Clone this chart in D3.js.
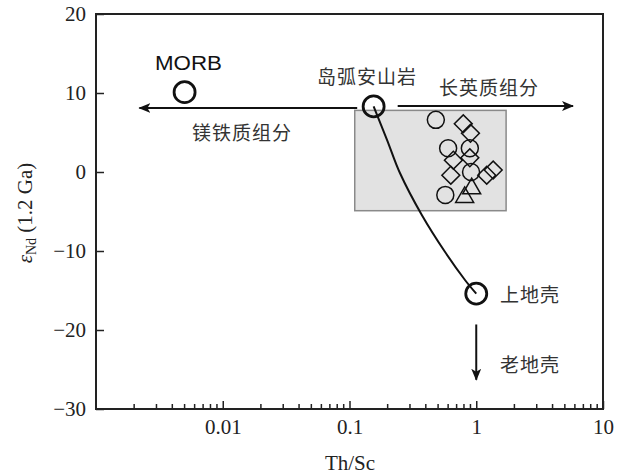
<!DOCTYPE html>
<html>
<head>
<meta charset="utf-8">
<script src="https://cdn.jsdelivr.net/npm/d3@7"></script>
<style>
  html, body { margin: 0; padding: 0; background: #fff; }
  svg { display: block; }
</style>
</head>
<body>
<svg id="chart" width="629" height="476"></svg>
<script>
// Th/Sc versus εNd(1.2 Ga) — end-members, mixing curve and sample field

// tick values
const xTickValues = [0.01, 0.1, 1, 10];
const xTickLabels = ["0.01", "0.1", "1", "10"];
const yTickValues = [-30, -20, -10, 0, 10, 20];

// end-member reservoirs [Th/Sc, εNd]
const endMemberNames = ["MORB", "岛弧安山岩", "上地壳"];
const endMemberX = [0.005, 0.155, 1.0];
const endMemberY = [10.1, 8.3, -15.4];

// mixing curve from island-arc andesite to upper crust
const mixX = [0.155, 0.198, 0.25, 0.372, 0.566, 0.815, 1.0];
const mixY = [8.3, 4.05, -0.13, -5.44, -10.1, -13.67, -15.4];

// field of the studied samples
const fieldX = [0.11, 1.72];
const fieldY = [-4.9, 7.8];

// samples, by symbol
const circleX = [0.48, 0.60, 0.89, 0.57, 0.91];
const circleY = [6.6, 3.0, 3.0, -2.9, 0.0];
const diamondX = [0.79, 0.90, 0.66, 0.63, 0.89, 1.21, 1.36];
const diamondY = [6.1, 4.9, 1.5, -0.4, 1.8, -0.4, 0.25];
const triangleX = [0.92, 0.81];
const triangleY = [-2.1, -3.2];

const svg = d3.select("#chart");
const x = d3.scaleLog().domain([0.001, 10]).range([96, 603]);
const y = d3.scaleLinear().domain([-30, 20]).range([409, 14]);

const serif = "'Liberation Serif', 'Times New Roman', serif";
const cjk = "'Noto Sans CJK SC', sans-serif";

// sample field
svg.append("rect")
  .attr("x", x(fieldX[0])).attr("y", y(fieldY[1]))
  .attr("width", x(fieldX[1]) - x(fieldX[0]))
  .attr("height", y(fieldY[0]) - y(fieldY[1]))
  .attr("fill", "#e2e2e2").attr("stroke", "#8a8a8a").attr("stroke-width", 1.5);

// arrow heads
const defs = svg.append("defs");
defs.append("marker").attr("id", "head")
  .attr("viewBox", "0 0 12 10").attr("refX", 11).attr("refY", 5)
  .attr("markerWidth", 12).attr("markerHeight", 10).attr("markerUnits", "userSpaceOnUse")
  .attr("orient", "auto")
  .append("path").attr("d", "M0,0 L12,5 L0,10 L3,5 Z").attr("fill", "#111");

// trend arrows
const arrows = [
  { x1: 0.115, y1: 8.1, x2: 0.0022, y2: 8.1 },
  { x1: 0.24, y1: 8.35, x2: 5.8, y2: 8.35 },
  { x1: 1.0, y1: -19.3, x2: 1.0, y2: -26.3 }
];
svg.selectAll("line.arrow").data(arrows).join("line")
  .attr("class", "arrow")
  .attr("x1", d => x(d.x1)).attr("y1", d => y(d.y1))
  .attr("x2", d => x(d.x2)).attr("y2", d => y(d.y2))
  .attr("stroke", "#111").attr("stroke-width", 2)
  .attr("marker-end", "url(#head)");

// mixing curve
const mixPts = mixX.map((v, i) => [x(v), y(mixY[i])]);
svg.append("path")
  .attr("d", d3.line().curve(d3.curveCatmullRom.alpha(0.5))(mixPts))
  .attr("fill", "none").attr("stroke", "#111").attr("stroke-width", 2);

// samples
const g = svg.append("g").attr("fill", "none").attr("stroke", "#111").attr("stroke-width", 1.5);
g.selectAll("circle").data(circleX).join("circle")
  .attr("cx", d => x(d)).attr("cy", (d, i) => y(circleY[i])).attr("r", 8.5);
const sq = d3.symbol().type(d3.symbolSquare).size(160);
g.selectAll("path.dia").data(diamondX).join("path")
  .attr("class", "dia")
  .attr("d", sq)
  .attr("transform", (d, i) => `translate(${x(d)},${y(diamondY[i])}) rotate(45)`);
const tri = d3.symbol().type(d3.symbolTriangle).size(140);
g.selectAll("path.tri").data(triangleX).join("path")
  .attr("class", "tri")
  .attr("d", tri)
  .attr("transform", (d, i) => `translate(${x(d)},${y(triangleY[i])})`);

// end-member circles
svg.selectAll("circle.em").data(endMemberX).join("circle")
  .attr("class", "em")
  .attr("cx", d => x(d)).attr("cy", (d, i) => y(endMemberY[i]))
  .attr("r", 10.5).attr("fill", "none").attr("stroke", "#111").attr("stroke-width", 2.8);

// frame
svg.append("rect").attr("x", 96).attr("y", 14).attr("width", 507).attr("height", 395)
  .attr("fill", "none").attr("stroke", "#222").attr("stroke-width", 2);

// x axis with minor ticks
const minor = [];
for (let e = -3; e < 1; e++) for (let m = 2; m <= 9; m++) minor.push(m * Math.pow(10, e));
svg.append("g").selectAll("line").data(minor).join("line")
  .attr("x1", d => x(d)).attr("x2", d => x(d))
  .attr("y1", 409).attr("y2", 404).attr("stroke", "#222").attr("stroke-width", 1.5);
const xAxis = svg.append("g").attr("transform", "translate(0,409)")
  .call(d3.axisBottom(x).tickValues(xTickValues).tickFormat((d, i) => xTickLabels[i])
    .tickSizeInner(-8).tickSizeOuter(0).tickPadding(10));
xAxis.select(".domain").remove();
xAxis.selectAll("line").attr("stroke", "#222").attr("stroke-width", 1.5);
xAxis.selectAll("text").attr("font-family", serif).attr("font-size", 21).attr("fill", "#222");

// y axis
const yAxis = svg.append("g").attr("transform", "translate(96,0)")
  .call(d3.axisLeft(y).tickValues(yTickValues).tickFormat(d => d < 0 ? "\u2212" + Math.abs(d) : d)
    .tickSizeInner(-8).tickSizeOuter(0).tickPadding(10));
yAxis.select(".domain").remove();
yAxis.selectAll("line").attr("stroke", "#222").attr("stroke-width", 1.5);
yAxis.selectAll("text").attr("font-family", serif).attr("font-size", 21).attr("fill", "#222");

// axis titles
svg.append("text").attr("x", 350).attr("y", 470).attr("text-anchor", "middle")
  .attr("font-family", serif).attr("font-size", 21).attr("fill", "#222").text("Th/Sc");
const yt = svg.append("text").attr("transform", "translate(32,213) rotate(-90)")
  .attr("text-anchor", "middle").attr("font-family", serif).attr("font-size", 21).attr("fill", "#222");
yt.append("tspan").attr("font-style", "italic").text("ε");
yt.append("tspan").attr("font-size", 14).attr("dy", 4).text("Nd");
yt.append("tspan").attr("dy", -4).text(" (1.2 Ga)");

// labels
svg.append("text").attr("x", 155).attr("y", 70)
  .attr("font-family", "'Liberation Sans', Arial, sans-serif").attr("font-size", 20)
  .attr("textLength", 67).attr("lengthAdjust", "spacingAndGlyphs")
  .attr("fill", "#111").text(endMemberNames[0]);
const cjkLabels = [
  { t: endMemberNames[1], x: 367, y: 84 },
  { t: "长英质组分", x: 489, y: 95 },
  { t: "镁铁质组分", x: 242, y: 140 },
  { t: endMemberNames[2], x: 530, y: 302 },
  { t: "老地壳", x: 530, y: 372 }
];
svg.selectAll("text.cjk").data(cjkLabels).join("text")
  .attr("class", "cjk")
  .attr("x", d => d.x).attr("y", d => d.y).attr("text-anchor", "middle")
  .attr("font-family", cjk).attr("font-size", 19).attr("letter-spacing", 1)
  .attr("fill", "#333").text(d => d.t);
</script>
</body>
</html>
